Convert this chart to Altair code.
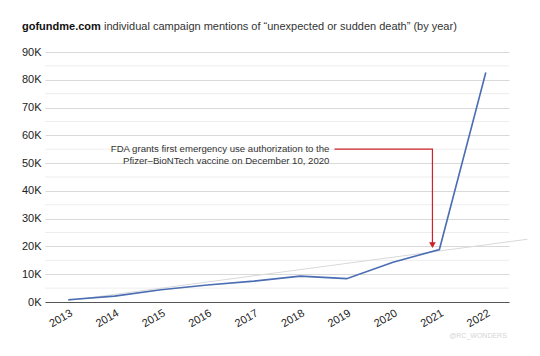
import altair as alt
import pandas as pd

years = [2013, 2014, 2015, 2016, 2017, 2018, 2019, 2020, 2021, 2022]
mentions = [800, 2100, 4400, 6100, 7500, 9300, 8400, 14300, 18900, 82600]

trend_years = [2013, 2022.9]
trend_values = [500, 22600]

arrow_years = [2018.74, 2020.85, 2020.85]
arrow_values = [55000, 55000, 21000]
arrowhead_year = [2020.85]
arrowhead_value = [20500]

note_text = "FDA grants first emergency use authorization to the\nPfizer\u2013BioNTech vaccine on December 10, 2020"
note_year = [2018.63]
note_value = [55000]

title_bold = "gofundme.com"
title_rest = "individual campaign mentions of \u201cunexpected or sudden death\u201d (by year)"
watermark = "@RC_WONDERS"

major_ticks = list(range(0, 90001, 10000))
minor_ticks = list(range(5000, 90000, 10000))

FONT = "Liberation Sans"

main_df = pd.DataFrame({"year": years, "mentions": mentions})
trend_df = pd.DataFrame({"year": trend_years, "mentions": trend_values})
arrow_df = pd.DataFrame({"year": arrow_years, "mentions": arrow_values, "i": list(range(len(arrow_years)))})
head_df = pd.DataFrame({"year": arrowhead_year, "mentions": arrowhead_value})
note_df = pd.DataFrame({"year": note_year, "mentions": note_value, "t": [note_text]})
minor_df = pd.DataFrame({"year": [2012.5] * len(minor_ticks), "mentions": minor_ticks})

xscale = alt.Scale(domain=[2012.5, 2022.5], nice=False, zero=False)
yscale = alt.Scale(domain=[0, 90000], nice=False)

x_axis = alt.Axis(values=years, format="d", labelAngle=-30, domainColor="#555555",
                  ticks=False, grid=False, labelFontSize=11, labelColor="#222222",
                  title=None, labelPadding=5, labelFont=FONT, labelOverlap=False)
y_axis = alt.Axis(values=major_ticks, grid=True, gridColor="#d9d9d9", tickCount=10,
                  domain=False, ticks=False, labelFontSize=11, labelColor="#222222",
                  labelExpr="(datum.value/1000) + 'K'", labelOverlap=False,
                  title=None, labelPadding=4, labelFont=FONT)

X = alt.X("year:Q", scale=xscale, axis=x_axis)
Y = alt.Y("mentions:Q", scale=yscale, axis=y_axis)

minor = alt.Chart(minor_df).mark_rule(color="#ededed", strokeWidth=1).encode(
    y=Y
)

base = alt.Chart(main_df).mark_line(color="#4a6db3", strokeWidth=1.6).encode(x=X, y=Y)

trend = alt.Chart(trend_df).mark_line(color="#d9d9d9", strokeWidth=1).encode(x=X, y=Y)

arrow = alt.Chart(arrow_df).mark_line(color="#cc2229", strokeWidth=1.2).encode(
    x=X, y=Y, order="i:Q",
)

head = alt.Chart(head_df).mark_point(shape="triangle-down", filled=True, color="#cc2229", size=45, opacity=1).encode(
    x=X, y=Y
)

note = alt.Chart(note_df).mark_text(align="right", baseline="middle", lineBreak="\n", lineHeight=12,
                                    fontSize=9.6, color="#333333", font=FONT).encode(
    x=X, y=Y, text="t:N",
)

t1 = alt.Chart(pd.DataFrame({"t": [title_bold]})).mark_text(
    align="left", baseline="middle", fontSize=11, fontWeight="bold", color="#111111", font=FONT
).encode(text="t:N", x=alt.value(-23), y=alt.value(-25))

t2 = alt.Chart(pd.DataFrame({"t": [title_rest]})).mark_text(
    align="left", baseline="middle", fontSize=11, color="#333333", font=FONT
).encode(text="t:N", x=alt.value(59), y=alt.value(-25))

wm = alt.Chart(pd.DataFrame({"t": [watermark]})).mark_text(
    align="center", baseline="middle", fontSize=7, color="#d5d5d5", font=FONT
).encode(text="t:N", x=alt.value(433), y=alt.value(284))

chart = alt.layer(minor, trend, base, arrow, head, note, t1, t2, wm).properties(
    width=464, height=250,
    autosize=alt.AutoSizeParams(type="none"),
    padding={"left": 37, "top": 44, "right": 23, "bottom": 46},
).configure(font=FONT).configure_view(stroke=None)

chart.save("out.html", embed_options={"renderer": "svg", "actions": False})
